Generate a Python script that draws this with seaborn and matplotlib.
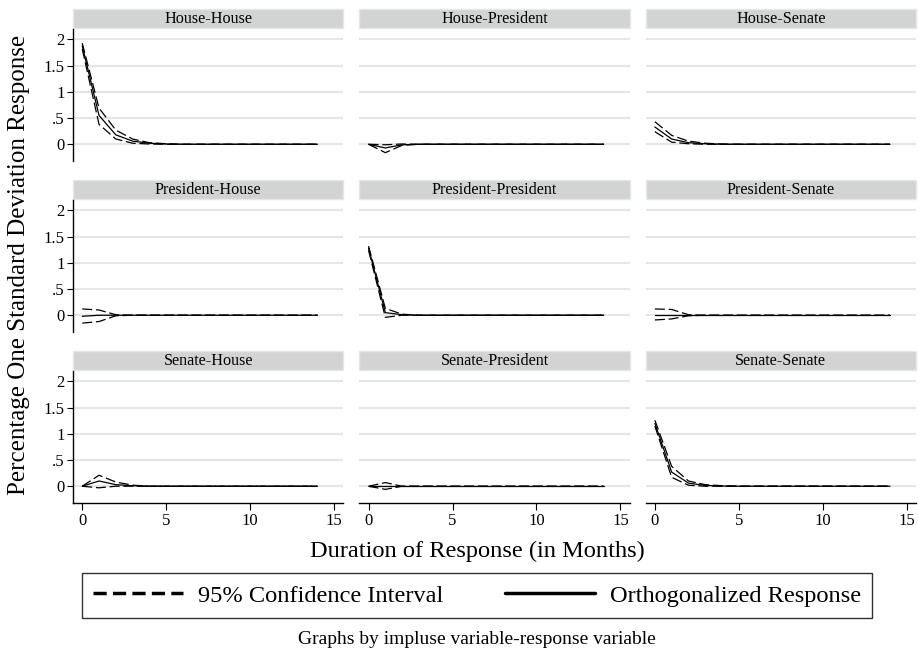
import matplotlib.pyplot as plt
import matplotlib.patches as mpatches
from matplotlib.lines import Line2D
import pandas as pd
import seaborn as sns

# impulse response functions, steps 0..14
steps = list(range(15))
panels = ['House-House', 'House-President', 'House-Senate',
          'President-House', 'President-President', 'President-Senate',
          'Senate-House', 'Senate-President', 'Senate-Senate']

hh_irf = [1.88, 0.55, 0.18, 0.06, 0.02, 0.005, 0, 0, 0, 0, 0, 0, 0, 0, 0]
hh_lo = [1.82, 0.38, 0.10, 0.02, 0.005, 0, 0, 0, 0, 0, 0, 0, 0, 0, 0]
hh_hi = [1.93, 0.69, 0.27, 0.10, 0.03, 0.01, 0, 0, 0, 0, 0, 0, 0, 0, 0]

hp_irf = [0, -0.07, -0.01, 0, 0, 0, 0, 0, 0, 0, 0, 0, 0, 0, 0]
hp_lo = [0, -0.16, -0.02, 0, 0, 0, 0, 0, 0, 0, 0, 0, 0, 0, 0]
hp_hi = [0, -0.01, 0.005, 0, 0, 0, 0, 0, 0, 0, 0, 0, 0, 0, 0]

hs_irf = [0.33, 0.10, 0.03, 0.01, 0, 0, 0, 0, 0, 0, 0, 0, 0, 0, 0]
hs_lo = [0.24, 0.04, 0.01, 0, 0, 0, 0, 0, 0, 0, 0, 0, 0, 0, 0]
hs_hi = [0.43, 0.17, 0.06, 0.02, 0.005, 0, 0, 0, 0, 0, 0, 0, 0, 0, 0]

ph_irf = [-0.02, 0, 0, 0, 0, 0, 0, 0, 0, 0, 0, 0, 0, 0, 0]
ph_lo = [-0.15, -0.12, -0.01, 0, 0, 0, 0, 0, 0, 0, 0, 0, 0, 0, 0]
ph_hi = [0.12, 0.10, 0.01, 0, 0, 0, 0, 0, 0, 0, 0, 0, 0, 0, 0]

pp_irf = [1.28, 0.05, 0.01, 0, 0, 0, 0, 0, 0, 0, 0, 0, 0, 0, 0]
pp_lo = [1.24, -0.04, 0, 0, 0, 0, 0, 0, 0, 0, 0, 0, 0, 0, 0]
pp_hi = [1.32, 0.13, 0.02, 0, 0, 0, 0, 0, 0, 0, 0, 0, 0, 0, 0]

ps_irf = [0, 0, 0, 0, 0, 0, 0, 0, 0, 0, 0, 0, 0, 0, 0]
ps_lo = [-0.09, -0.07, -0.01, 0, 0, 0, 0, 0, 0, 0, 0, 0, 0, 0, 0]
ps_hi = [0.12, 0.11, 0.01, 0, 0, 0, 0, 0, 0, 0, 0, 0, 0, 0, 0]

sh_irf = [0, 0.10, 0.03, 0.01, 0, 0, 0, 0, 0, 0, 0, 0, 0, 0, 0]
sh_lo = [0, -0.03, 0, 0, 0, 0, 0, 0, 0, 0, 0, 0, 0, 0, 0]
sh_hi = [0, 0.21, 0.08, 0.02, 0, 0, 0, 0, 0, 0, 0, 0, 0, 0, 0]

sp_irf = [0, 0, 0, 0, 0, 0, 0, 0, 0, 0, 0, 0, 0, 0, 0]
sp_lo = [0, -0.06, 0, 0, 0, 0, 0, 0, 0, 0, 0, 0, 0, 0, 0]
sp_hi = [0, 0.07, 0, 0, 0, 0, 0, 0, 0, 0, 0, 0, 0, 0, 0]

ss_irf = [1.20, 0.27, 0.06, 0.015, 0.004, 0, 0, 0, 0, 0, 0, 0, 0, 0, 0]
ss_lo = [1.15, 0.17, 0.02, 0, 0, 0, 0, 0, 0, 0, 0, 0, 0, 0, 0]
ss_hi = [1.26, 0.38, 0.10, 0.03, 0.01, 0, 0, 0, 0, 0, 0, 0, 0, 0, 0]

yticks = [0, 0.5, 1, 1.5, 2]
ytick_labels = ['0', '.5', '1', '1.5', '2']
xticks = [0, 5, 10, 15]


def build_frame():
    series = {
        'House-House': (hh_irf, hh_lo, hh_hi),
        'House-President': (hp_irf, hp_lo, hp_hi),
        'House-Senate': (hs_irf, hs_lo, hs_hi),
        'President-House': (ph_irf, ph_lo, ph_hi),
        'President-President': (pp_irf, pp_lo, pp_hi),
        'President-Senate': (ps_irf, ps_lo, ps_hi),
        'Senate-House': (sh_irf, sh_lo, sh_hi),
        'Senate-President': (sp_irf, sp_lo, sp_hi),
        'Senate-Senate': (ss_irf, ss_lo, ss_hi),
    }
    rows = []
    for panel in panels:
        for name, vals in zip(['irf', 'lo', 'hi'], series[panel]):
            for s, v in zip(steps, vals):
                rows.append({'panel': panel, 'series': name,
                             'step': s, 'value': v})
    return pd.DataFrame(rows)


def draw_irf(data, **kws):
    ax = plt.gca()
    for name in ['lo', 'hi', 'irf']:
        part = data[data['series'] == name]
        ls = '-' if name == 'irf' else (0, (8, 3))
        sns.lineplot(data=part, x='step', y='value', color='black',
                     lw=0.9, linestyle=ls, ax=ax)


sns.set_theme(style='white')
plt.rcParams['font.family'] = ['Liberation Serif', 'DejaVu Serif']
plt.rcParams['text.color'] = 'black'

df = build_frame()
g = sns.FacetGrid(df, col='panel', col_wrap=3, col_order=panels,
                  sharex=True, sharey=True, despine=False)
g.map_dataframe(draw_irf)
fig = g.figure
fig.set_size_inches(9.18, 6.52)
fig.subplots_adjust(left=73 / 918, right=916 / 918, top=1 - 29 / 652,
                    bottom=1 - 503 / 652, wspace=0.059, hspace=0.295)

for i, ax in enumerate(g.axes.flat):
    ax.set_title('')
    ax.set_xlabel('')
    ax.set_ylabel('')
    ax.set_xlim(-0.55, 15.55)
    ax.set_ylim(-0.32, 2.2)
    for y in yticks:
        ax.axhline(y, color='#e6e6e6', lw=1.5, zorder=0)
    for sp in ['top', 'right']:
        ax.spines[sp].set_visible(False)
    col = i % 3
    row = i // 3
    ax.spines['left'].set_visible(col == 0)
    ax.spines['bottom'].set_visible(row == 2)
    ax.spines['left'].set_color('black')
    ax.spines['bottom'].set_color('black')
    ax.spines['left'].set_linewidth(1.0)
    ax.spines['bottom'].set_linewidth(1.0)
    ax.set_yticks(yticks)
    ax.set_xticks(xticks)
    if col == 0:
        ax.set_yticklabels(ytick_labels)
        ax.tick_params(axis='y', left=True, length=4, width=0.8,
                       labelsize=12, pad=2, colors='black')
    else:
        ax.tick_params(axis='y', left=False, labelleft=False)
    if row == 2:
        ax.tick_params(axis='x', bottom=True, labelbottom=True, length=5,
                       width=0.8, labelsize=12, pad=2, colors='black')
        ax.set_xticklabels([str(x) for x in xticks])
    else:
        ax.tick_params(axis='x', bottom=False, labelbottom=False)
    ax.grid(False)
    strip = mpatches.Rectangle((0, 1.005), 1, 0.145, transform=ax.transAxes,
                               facecolor='#d3d3d3', edgecolor='#e3e8ea',
                               lw=1.0, clip_on=False)
    ax.add_patch(strip)
    ax.text(0.5, 1.077, panels[i], transform=ax.transAxes, ha='center',
            va='center', fontsize=11.6, color='black')

fig.text(19 / 918, 1 - 265 / 652, 'Percentage One Standard Deviation Response',
         rotation=90, ha='center', va='center', fontsize=18)
fig.text(477 / 918, 1 - 551 / 652, 'Duration of Response (in Months)',
         ha='center', va='center', fontsize=17.6)
fig.text(477 / 918, 1 - 639 / 652,
         'Graphs by impluse variable-response variable',
         ha='center', va='center', fontsize=14)

handles = [Line2D([], [], color='black', lw=2.5, linestyle=(0, (3.8, 1.8))),
           Line2D([], [], color='black', lw=2.5)]
leg = fig.legend(handles, ['95% Confidence Interval', 'Orthogonalized Response'],
                 loc='center', ncol=2, mode='expand', borderaxespad=0,
                 bbox_to_anchor=(82 / 918, 1 - 618 / 652, 790 / 918, 45 / 652),
                 frameon=True, fancybox=False, fontsize=17.6,
                 handlelength=3.7, handletextpad=0.6, borderpad=0.45)
leg.get_frame().set_edgecolor('black')
leg.get_frame().set_linewidth(1.0)

fig.savefig('out.png', dpi=100, facecolor='white')
